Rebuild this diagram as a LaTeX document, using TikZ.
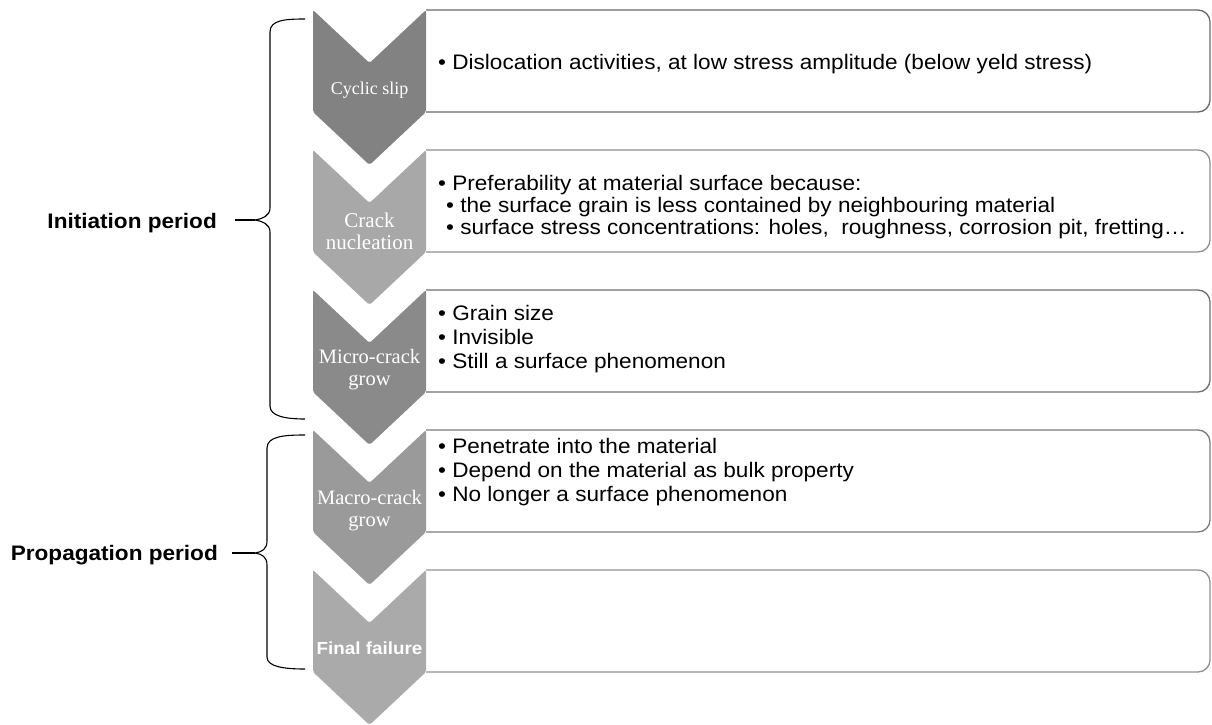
\documentclass[tikz,border=0pt]{standalone}
\usepackage{fontspec}
\setmainfont{Liberation Sans}
\newfontfamily\boxfont[FakeStretch=1.075]{Liberation Sans}
\newfontfamily\chevfont{Liberation Serif}
\definecolor{cA}{HTML}{828282}
\definecolor{cB}{HTML}{A8A8A8}
\definecolor{cC}{HTML}{8A8A8A}
\definecolor{cD}{HTML}{9A9A9A}
\definecolor{cE}{HTML}{AAAAAA}
\begin{document}
\begin{tikzpicture}[x=1pt,y=-1pt,
  chev/.style={rounded corners=2pt},
  card/.style={line width=1.3pt, rounded corners=12pt},
  chevlabel/.style={text=white, font=\chevfont\fontsize{20.5}{22}\selectfont, align=center, inner sep=0pt},
  boxtext/.style={font=\boxfont\fontsize{21}{24}\selectfont, align=left, anchor=north west, inner sep=0pt},
  brace/.style={draw, line width=1.1pt},
  period/.style={font=\boxfont\bfseries\fontsize{21}{25}\selectfont, anchor=base east, inner sep=0pt}]
\useasboundingbox (0,0) rectangle (1212,725);
\def\chevpath#1{(313,#1) -- (369.5,#1+53) -- (426,#1) -- (426,#1+102) -- (369.5,#1+155) -- (313,#1+102) -- cycle}
\def\cardpath#1{(426,#1) -- (1210,#1) -- (1210,#1+102) -- (426,#1+102)}
% boxes
\draw[card, draw=cA!80!black] \cardpath{10};
\draw[card, draw=cB!85!black] \cardpath{150};
\draw[card, draw=cC!80!black] \cardpath{290};
\draw[card, draw=cD!80!black] \cardpath{430};
\draw[card, draw=cE!85!black] \cardpath{570};
% chevrons
\fill[chev, cA] \chevpath{10};
\fill[chev, cB] \chevpath{150};
\fill[chev, cC] \chevpath{290};
\fill[chev, cD] \chevpath{430};
\fill[chev, cE] \chevpath{570};
% chevron labels
\node[chevlabel, font=\chevfont\fontsize{18}{22}\selectfont] (l1) at (369.5,90) {Cyclic slip};
\node[chevlabel, font=\chevfont\fontsize{21}{22}\selectfont] (l2) at (369.5,231) {Crack\\nucleation};
\node[chevlabel] (l3) at (369.5,370) {Micro-crack\\grow};
\node[chevlabel] (l4) at (369.5,511) {Macro-crack\\grow};
\node[chevlabel, font=\boxfont\bfseries\fontsize{17.5}{22}\selectfont] (l5) at (369.5,648) {Final failure};
% box texts
\node[boxtext] (t1) at (438,54.5) {• Dislocation activities, at low stress amplitude (below yeld stress)};
\node[boxtext, font=\boxfont\fontsize{21}{22}\selectfont] (t2) at (438,175) {• Preferability at material surface because:\\
\hspace*{8pt}• the surface grain is less contained by neighbouring material\\
\hspace*{8pt}• surface stress concentrations: holes,\ \ roughness, corrosion pit, fretting…};
\node[boxtext] (t3) at (438,305) {• Grain size\\• Invisible\\• Still a surface phenomenon};
\node[boxtext] (t4) at (438,438) {• Penetrate into the material\\• Depend on the material as bulk property\\• No longer a surface phenomenon};
% braces
\draw[brace] (305,19) .. controls (285,19) and (270,20) .. (270,32) -- (270,208)
  .. controls (270,216) and (262,219) .. (255,220)
  .. controls (262,221) and (270,224) .. (270,232) -- (270,406)
  .. controls (270,416) and (285,419) .. (305,419);
\coordinate (ic) at (255,220);
\coordinate (it) at (235,220);
\draw[brace] (it) -- (ic);
\draw[brace] (305,435) .. controls (285,435) and (267,436) .. (267,448) -- (267,541)
  .. controls (267,549) and (262,552) .. (255,553)
  .. controls (262,554) and (267,557) .. (267,565) -- (267,657)
  .. controls (267,667) and (285,669) .. (305,669);
\coordinate (pc) at (255,553);
\coordinate (pt) at (232,553);
\draw[brace] (pt) -- (pc);
\node[period] (ip) at (217,228) {Initiation period};
\node[period] (pp) at (218,560) {Propagation period};
\end{tikzpicture}
\end{document}
